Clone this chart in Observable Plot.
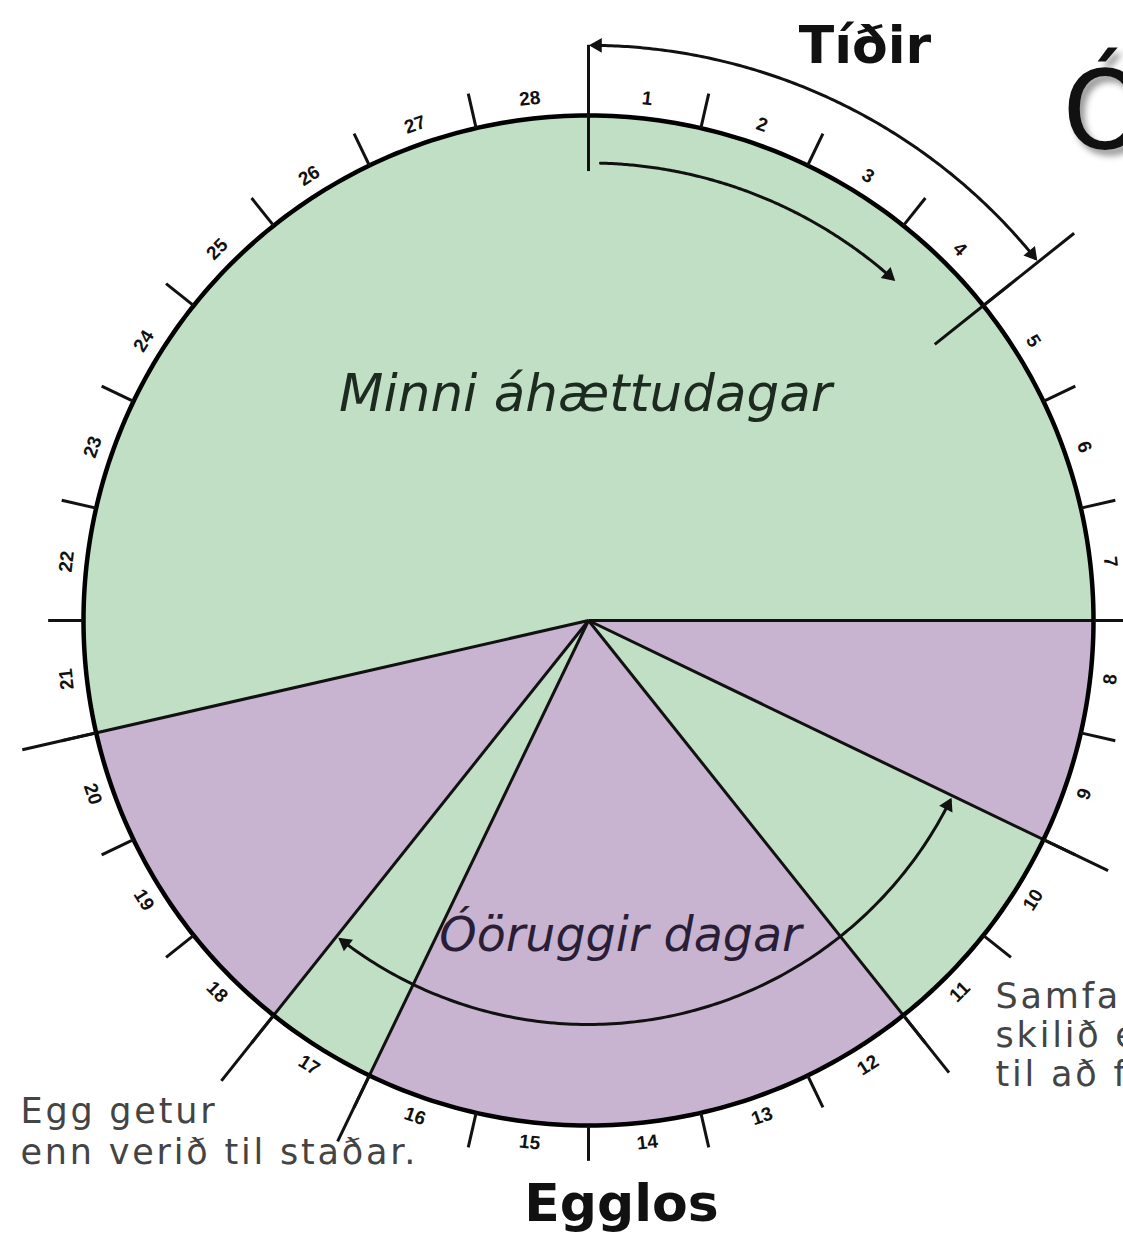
<!DOCTYPE html>
<html><head><meta charset="utf-8">
<script src="https://cdn.jsdelivr.net/npm/d3@7"></script>
<script src="https://cdn.jsdelivr.net/npm/@observablehq/plot@0.6"></script>
<style>
html,body{margin:0;padding:0;background:#fff;overflow:hidden}
#chart svg{display:block;overflow:hidden}
</style>
</head><body><div id="chart"></div>
<script>
// ---------- data ----------
const cycleLength = 28;
const days = [1,2,3,4,5,6,7,8,9,10,11,12,13,14,15,16,17,18,19,20,21,22,23,24,25,26,27,28];
const dayLabels = ["1","2","3","4","5","6","7","8","9","10","11","12","13","14","15","16","17","18","19","20","21","22","23","24","25","26","27","28"];
const segmentFirstDay = [21, 8, 10, 12, 17, 18];
const segmentLastDay  = [7, 9, 11, 16, 17, 20];
const segmentRisk     = ["low", "unsafe", "low", "unsafe", "low", "unsafe"];
const dividerAfterDay = [7, 9, 11, 16, 17, 20];
const mensesDays = [1, 4];        // Tíðir
const unsafeDays = [10, 17];      // Óöruggir dagar
const ovulationAfterDay = [14];   // Egglos
const riskNames = ["low", "unsafe"];
const texts = {
  menses: "Tíðir",
  low: "Minni áhættudagar",
  unsafe: "Óöruggir dagar",
  ovulation: "Egglos",
  egg: "Egg getur\nenn verið til staðar.",
  sex: "Samfarir fyrir\nskilið eftir sæði\ntil að frjóvga",
  title: "Ó"
};

// ---------- layout / style ----------
const W = 1123, H = 1237, CX = 588, CY = 620, RPX = 505;
const riskColors = ["#c1dfc4", "#c8b3d1"];
const step = 360 / cycleLength;
const rad = d => d * Math.PI / 180;
const pol = (deg, r) => ({x: r * Math.sin(rad(deg)), y: -r * Math.cos(rad(deg))});
const bAng = b => b * step;                 // boundary after day b
const midAng = d => (d - 0.5) * step;
const arc = (a0, a1, r, n = 160) => d3.range(n + 1).map(i => pol(a0 + (a1 - a0) * i / n, r));
const dividerReach = {7: 1.1, 9: 1.142, 11: 1.145, 16: 1.145, 17: 1.166, 20: 1.15};

// sectors
const sectorMarks = segmentFirstDay.map((f, i) => {
  const a0 = bAng(f - 1);
  let a1 = bAng(segmentLastDay[i]);
  if (a1 <= a0) a1 += 360;
  const pts = [{x: 0, y: 0}, ...arc(a0, a1, 1, 200)];
  const color = riskColors[riskNames.indexOf(segmentRisk[i])];
  return Plot.line(pts, {x: "x", y: "y", fill: color, stroke: color, strokeWidth: 0.5, curve: "linear-closed"});
});

// dividers from centre
const dividers = dividerAfterDay.map(b => {
  const p = pol(bAng(b), dividerReach[b]);
  return {x1: 0, y1: 0, x2: p.x, y2: p.y};
});

// ticks at every day boundary
const ticks = days.map(b => {
  const a = pol(bAng(b), 1), c = pol(bAng(b), 1.07);
  return {x1: a.x, y1: a.y, x2: c.x, y2: c.y};
});

// long menses markers
const mensesLines = [
  [bAng(mensesDays[0] - 1), 0.89, 1.14],
  [bAng(mensesDays[1]), 0.877, 1.23]
].map(([a, r0, r1]) => {
  const p = pol(a, r0), q = pol(a, r1);
  return {x1: p.x, y1: p.y, x2: q.x, y2: q.y};
});

// arcs
const mA0 = bAng(mensesDays[0] - 1), mA1 = bAng(mensesDays[1]);
const uA0 = bAng(unsafeDays[0] - 1), uA1 = bAng(unsafeDays[1]);
const arcOuter = {a0: mA0 + 0.4, a1: mA1 - 0.5, r: 1.139};
const arcInner = {a0: mA0 + 1.5, a1: mA0 + (mA1 - mA0) * 0.81, r: 0.906};
const arcUnsafe = {a0: uA0 + 0.8, a1: uA1 - 0.8, r: 0.80};
const arcs = [arcOuter, arcInner, arcUnsafe];

function head(angle, r, dir) {
  const back = 5 / (r * RPX) * 180 / Math.PI;
  const p = pol(angle - dir * back, r);
  return {x: p.x, y: p.y, rot: dir > 0 ? angle + 90 : angle - 90};
}
const heads = [
  head(arcOuter.a0, arcOuter.r, -1), head(arcOuter.a1, arcOuter.r, 1),
  head(arcInner.a1, arcInner.r, 1),
  head(arcUnsafe.a0, arcUnsafe.r, -1), head(arcUnsafe.a1, arcUnsafe.r, 1)
];

// day labels
const labelData = days.map((d, i) => {
  const a = midAng(d);
  const p = pol(a, 1.04);
  const flip = d >= 8 && d <= 20;
  const rot = flip ? a - 180 : (a > 180 ? a - 360 : a);
  return {x: p.x, y: p.y, text: dayLabels[i], rot};
});

const font = "DejaVu Sans, Verdana, sans-serif";
const tMen = pol((mA0 + mA1) / 2, 1.262);
const tOv = pol(bAng(ovulationAfterDay[0]), 1.157);
const tUn = pol((uA0 + uA1) / 2, 0.64);

const chart = Plot.plot({
  width: W, height: H,
  margin: 0,
  x: {domain: [-CX / RPX, (W - CX) / RPX], range: [0, W], axis: null},
  y: {domain: [-CY / RPX, (H - CY) / RPX], range: [0, H], axis: null},
  style: {background: "white", overflow: "hidden"},
  marks: [
    ...sectorMarks,
    Plot.link(dividers, {x1: "x1", y1: "y1", x2: "x2", y2: "y2", stroke: "#111", strokeWidth: 3}),
    Plot.line(arc(0, 360, 1, 400), {x: "x", y: "y", stroke: "#000", strokeWidth: 4.5, curve: "linear-closed"}),
    Plot.link(ticks, {x1: "x1", y1: "y1", x2: "x2", y2: "y2", stroke: "#111", strokeWidth: 3}),
    Plot.link(mensesLines, {x1: "x1", y1: "y1", x2: "x2", y2: "y2", stroke: "#111", strokeWidth: 3}),
    ...arcs.map(a => Plot.line(arc(a.a0, a.a1, a.r), {x: "x", y: "y", stroke: "#111", strokeWidth: 3})),
    Plot.dot(heads, {x: "x", y: "y", rotate: "rot", symbol: "triangle", r: 5.5, fill: "#111", stroke: "none"}),
    Plot.text(labelData, {x: "x", y: "y", text: "text", rotate: "rot", fontSize: 19, fontWeight: "bold", fontFamily: "Liberation Sans, Arial, sans-serif", fill: "#111", textAnchor: "middle", lineAnchor: "middle"}),
    Plot.text([texts.menses], {x: tMen.x, y: tMen.y, text: d => d, fontSize: 52, fontWeight: "bold", fontFamily: font, fill: "#111", lineAnchor: "middle"}),
    Plot.text([texts.low], {x: 0, y: -0.45, text: d => d, dx: -3, dy: 1, fontSize: 51.5, fontStyle: "italic", fontFamily: font, fill: "#1c2a20", lineAnchor: "middle"}),
    Plot.text([texts.unsafe], {x: tUn.x, y: tUn.y, text: d => d, dx: -40, fontSize: 47.5, fontStyle: "italic", fontFamily: font, fill: "#2a1e36", lineAnchor: "middle"}),
    Plot.text([texts.ovulation], {x: tOv.x, y: tOv.y, text: d => d, dx: 33, fontSize: 52, fontWeight: "bold", fontFamily: font, fill: "#111", lineAnchor: "middle"}),
    Plot.text([texts.egg], {x: -1.1248, y: 0.937, text: d => d, textAnchor: "start", lineAnchor: "top", lineHeight: 1.17, fontSize: 35, fontFamily: font, fill: "#444"}),
    Plot.text([texts.sex], {x: 0.806, y: 0.712, text: d => d, textAnchor: "start", lineAnchor: "top", lineHeight: 1.12, fontSize: 35, fontFamily: font, fill: "#444"}),
    Plot.text([texts.title], {x: 0.9386, y: -1.004, text: d => d, textAnchor: "start", lineAnchor: "middle", fontSize: 108, fontFamily: font, fill: "#111"})
  ]
});
d3.select(chart).selectAll("text")
  .filter(function() { const t = this.textContent; return t.startsWith("Egg getur") || t.startsWith("Samfarir"); })
  .attr("letter-spacing", 2.8);
d3.select(chart).selectAll("text")
  .filter(function() { return this.textContent === texts.title; })
  .style("filter", "drop-shadow(5px 6px 3px #9a9a9a)");
document.getElementById("chart").appendChild(chart);
</script>
</body></html>
